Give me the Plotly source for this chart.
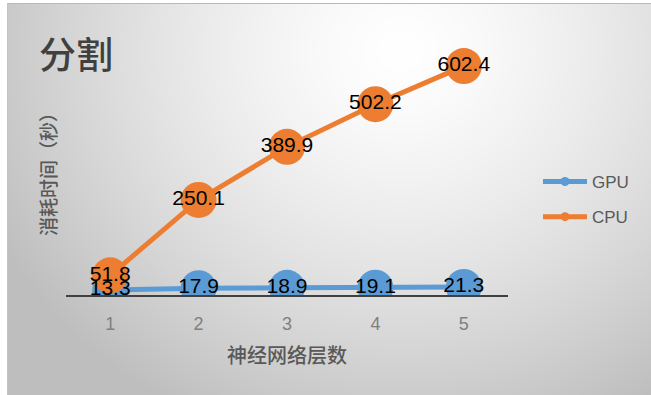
import base64, struct, zlib
import numpy as np
import plotly.graph_objects as go

# ---------------- data ----------------
layers = ["1", "2", "3", "4", "5"]
gpu_times = [13.3, 17.9, 18.9, 19.1, 21.3]
cpu_times = [51.8, 250.1, 389.9, 502.2, 602.4]
title_text = "分割"
x_title = "神经网络层数"
y_title = "消耗时间（秒）"

W, H = 651, 395
ML, MR, MT, MB = 66, 143, 29, 100
PW, PH = W - ML - MR, H - MT - MB

BLUE = "#5B9BD5"
ORANGE = "#ED7D31"


# ---------------- background gradient image ----------------
def make_png(arr):
    h, w, _ = arr.shape
    raw = b"".join(b"\x00" + arr[i].tobytes() for i in range(h))

    def chunk(tag, data):
        c = struct.pack(">I", len(data)) + tag + data
        return c + struct.pack(">I", zlib.crc32(tag + data) & 0xFFFFFFFF)

    return (b"\x89PNG\r\n\x1a\n"
            + chunk(b"IHDR", struct.pack(">IIBBBBB", w, h, 8, 2, 0, 0, 0))
            + chunk(b"IDAT", zlib.compress(raw, 9))
            + chunk(b"IEND", b""))


yy, xx = np.mgrid[0:H, 0:W].astype(float)
d = np.sqrt(((xx - 400) / 420) ** 2 + ((yy - 50) / 380) ** 2)
d = np.clip(d, 0, 1.15)
val = 255 - 58 * (d ** 1.4)
val = np.clip(val, 190, 255)
val[:, :7] = 255
val[:3, :] = 255
val[3, 7:] = 185
val[3:, 7] = 195
img = np.repeat(val[:, :, None], 3, axis=2).astype(np.uint8)
bg_uri = "data:image/png;base64," + base64.b64encode(make_png(img)).decode()

# ---------------- figure ----------------
fig = go.Figure()

fig.add_trace(go.Scatter(
    x=layers, y=gpu_times, mode="lines+markers", name="GPU", showlegend=False,
    line=dict(color=BLUE, width=5), marker=dict(color=BLUE, size=36),
    hoverinfo="skip"))
fig.add_trace(go.Scatter(
    x=layers, y=cpu_times, mode="lines+markers", name="CPU", showlegend=False,
    line=dict(color=ORANGE, width=5), marker=dict(color=ORANGE, size=36),
    hoverinfo="skip"))

label_font = dict(family="Liberation Sans, Arial", size=21, color="#000000")
for vals in (gpu_times, cpu_times):
    fig.add_trace(go.Scatter(
        x=layers, y=vals, mode="text", text=[f"{v:.1f}" for v in vals],
        textposition="middle center", textfont=label_font,
        showlegend=False, hoverinfo="skip"))

# legend entries
for name, col, grp in (("GPU", BLUE, "a"), ("CPU", ORANGE, "b")):
    fig.add_trace(go.Scatter(
        x=[None], y=[None], mode="lines+markers", name=name, legendgroup=grp,
        line=dict(color=col, width=5), marker=dict(color=col, size=9)))

fig.update_layout(
    width=W, height=H,
    margin=dict(l=ML, r=MR, t=MT, b=MB),
    paper_bgcolor="rgba(0,0,0,0)",
    plot_bgcolor="rgba(0,0,0,0)",
    images=[dict(source=bg_uri, xref="paper", yref="paper",
                 x=-ML / PW, y=1 + MT / PH, sizex=W / PW, sizey=H / PH,
                 xanchor="left", yanchor="top", sizing="stretch",
                 layer="below")],
    showlegend=True,
    legend=dict(x=(538 - ML) / PW, y=(295 - 164) / PH, xanchor="left",
                yanchor="top", traceorder="grouped", tracegroupgap=10,
                itemwidth=44,
                font=dict(family="Liberation Sans, Arial", size=17,
                          color="#595959"),
                bgcolor="rgba(0,0,0,0)"),
    xaxis=dict(type="category", range=[-0.5, 4.5], showgrid=False,
               showline=True, linecolor="#404040", linewidth=2,
               layer="below traces", zeroline=False,
               ticks="", ticklabelstandoff=11,
               tickfont=dict(family="Liberation Sans, Arial", size=18,
                             color="#808080")),
    yaxis=dict(range=[0, 700], visible=False, showgrid=False,
               zeroline=False),
    annotations=[
        dict(text=title_text, xref="paper", yref="paper",
             x=(37 - ML) / PW, y=(295 - 53) / PH, xanchor="left",
             yanchor="middle", showarrow=False,
             font=dict(family="Noto Sans CJK SC", size=37, weight=500,
                       color="#404040")),
        dict(text=y_title, xref="paper", yref="paper",
             x=(47 - ML) / PW, y=(295 - 170) / PH, xanchor="center",
             yanchor="middle", textangle=-90, showarrow=False,
             font=dict(family="Noto Sans CJK SC", size=19, weight=500,
                       color="#595959")),
        dict(text=x_title, xref="paper", yref="paper",
             x=0.5, y=(295 - 355) / PH, xanchor="center",
             yanchor="middle", showarrow=False,
             font=dict(family="Noto Sans CJK SC", size=20, weight=500,
                       color="#595959")),
    ],
)

fig.write_html("out.html")
